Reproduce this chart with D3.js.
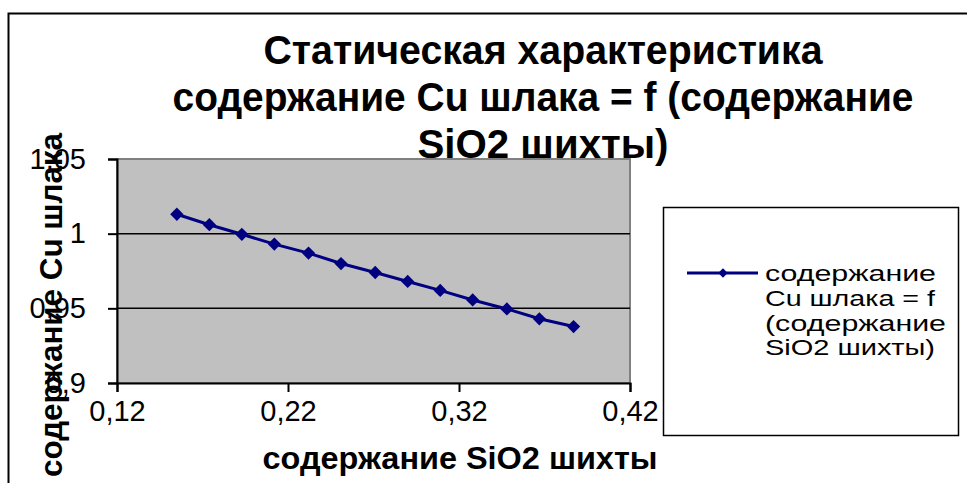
<!DOCTYPE html>
<html><head><meta charset="utf-8">
<script src="https://cdn.jsdelivr.net/npm/d3@7"></script>
<style>body{margin:0;background:#fff} svg{display:block}</style>
</head><body>
<script>
const titleLines = ["Статическая характеристика", "содержание Cu шлака = f (содержание", "SiO2 шихты)"];
const xLabel = "содержание SiO2 шихты";
const yLabel = "содержание Cu шлака";
const legendLines = ["содержание", "Cu шлака = f", "(содержание", "SiO2 шихты)"];
const xTicks = [0.12, 0.22, 0.32, 0.42];
const yTicks = [0.9, 0.95, 1, 1.05];
const sio2 = [0.155, 0.174, 0.193, 0.212, 0.232, 0.251, 0.271, 0.290, 0.309, 0.328, 0.348, 0.367, 0.387];
const cuSlag = [1.013, 1.006, 0.9996, 0.993, 0.987, 0.980, 0.974, 0.968, 0.962, 0.9556, 0.9496, 0.943, 0.9378];

const W = 967, H = 483;
const svg = d3.select("body").append("svg").attr("width", W).attr("height", H);
const FONT = "'Liberation Sans', Arial, sans-serif";
const fmt = d => String(d).replace(".", ",");

const x = d3.scaleLinear().domain([0.12, 0.42]).range([117, 630]);
const y = d3.scaleLinear().domain([0.9, 1.05]).range([383, 159]);

// outer chart border
svg.append("path").attr("d", `M8.5,${H} V13.5 H${W}`).attr("fill", "none").attr("stroke", "#000").attr("stroke-width", 2);

// plot area
svg.append("rect").attr("x", x(0.12)).attr("y", y(1.05)).attr("width", x(0.42) - x(0.12)).attr("height", y(0.9) - y(1.05))
  .attr("fill", "#c0c0c0").attr("stroke", "#808080").attr("stroke-width", 2);

// gridlines
svg.append("g").selectAll("line").data(yTicks.filter(v => v > 0.9 && v < 1.05)).join("line")
  .attr("x1", x(0.12)).attr("x2", x(0.42)).attr("y1", d => y(d)).attr("y2", d => y(d))
  .attr("stroke", "#000").attr("stroke-width", 1.5);

// axes
const gx = svg.append("g").attr("transform", `translate(0,${y(0.9)})`)
  .call(d3.axisBottom(x).tickValues(xTicks).tickFormat(fmt).tickSize(9).tickPadding(8));
const gy = svg.append("g").attr("transform", `translate(${x(0.12)},0)`)
  .call(d3.axisLeft(y).tickValues(yTicks).tickFormat(fmt).tickSize(9).tickPadding(22));
[gx, gy].forEach(g => {
  g.select(".domain").attr("stroke", "#000").attr("stroke-width", 2);
  g.selectAll(".tick line").attr("stroke", "#000").attr("stroke-width", 2);
  g.selectAll("text").attr("font-family", FONT).attr("font-size", 29).attr("fill", "#000");
});

// series
const pts = sio2.map((v, i) => [v, cuSlag[i]]);
svg.append("path").datum(pts).attr("fill", "none").attr("stroke", "#000080").attr("stroke-width", 3)
  .attr("d", d3.line().x(d => x(d[0])).y(d => y(d[1])));
svg.append("g").selectAll("path").data(pts).join("path")
  .attr("d", d3.symbol(d3.symbolSquare, 88))
  .attr("transform", d => `translate(${x(d[0])},${y(d[1])}) rotate(45)`)
  .attr("fill", "#000080");

// title
const titleW = [559, 741, 251];
svg.append("g").selectAll("text").data(titleLines).join("text")
  .attr("x", 543).attr("y", (d, i) => 64 + i * 47).attr("text-anchor", "middle")
  .attr("font-family", FONT).attr("font-weight", "bold").attr("font-size", 40).attr("fill", "#000")
  .attr("textLength", (d, i) => titleW[i]).attr("lengthAdjust", "spacingAndGlyphs")
  .text(d => d);

// axis titles
svg.append("text").attr("x", 460).attr("y", 469).attr("text-anchor", "middle")
  .attr("font-family", FONT).attr("font-weight", "bold").attr("font-size", 32)
  .attr("textLength", 395).attr("lengthAdjust", "spacingAndGlyphs").text(xLabel);
svg.append("text").attr("transform", "translate(62,305) rotate(-90)").attr("text-anchor", "middle")
  .attr("font-family", FONT).attr("font-weight", "bold").attr("font-size", 31)
  .attr("textLength", 344).attr("lengthAdjust", "spacingAndGlyphs").text(yLabel);

// legend
svg.append("rect").attr("x", 663.5).attr("y", 207.5).attr("width", 295).attr("height", 228)
  .attr("fill", "#fff").attr("stroke", "#000").attr("stroke-width", 1.5);
svg.append("line").attr("x1", 687).attr("x2", 758).attr("y1", 273).attr("y2", 273)
  .attr("stroke", "#000080").attr("stroke-width", 3);
svg.append("path").attr("d", d3.symbol(d3.symbolSquare, 44)).attr("transform", "translate(723,273) rotate(45)").attr("fill", "#000080");
const legW = [171, 170, 181, 170];
svg.append("g").selectAll("text").data(legendLines).join("text")
  .attr("x", 765).attr("y", (d, i) => 281 + i * 24.8)
  .attr("font-family", FONT).attr("font-size", 22).attr("fill", "#000")
  .attr("textLength", (d, i) => legW[i]).attr("lengthAdjust", "spacingAndGlyphs")
  .text(d => d);
</script>
</body></html>
